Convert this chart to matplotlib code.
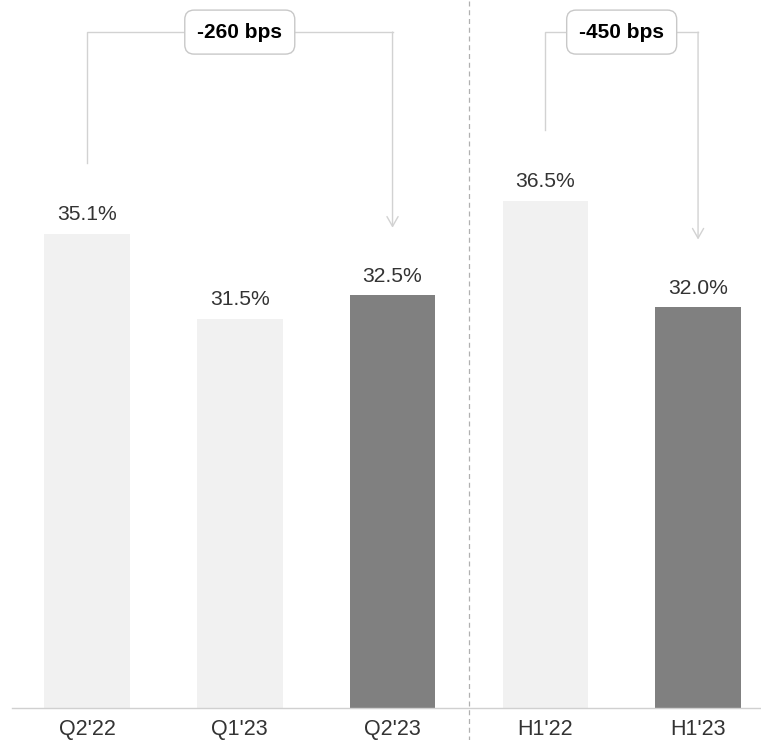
# margin bars, quarter and half-year comparison with bps change brackets

import matplotlib.pyplot as plt

categories = ["Q2'22", "Q1'23", "Q2'23", "H1'22", "H1'23"]
margins = [35.1, 31.5, 32.5, 36.5, 32.0]
highlight = [False, False, True, False, True]

# (from index, to index, label)
changes = [(0, 2, "-260 bps"), (3, 4, "-450 bps")]

LIGHT = "#f1f1f1"
DARK = "#808080"
TEXT = "#333333"
LINE = "#d2d2d2"


def draw_bracket(ax, i0, i1, label, top):
    """Draw a bracket from bar i0 to bar i1 with a rounded label box"""
    y0 = margins[i0] + 3.0  # where the left leg starts
    y1 = margins[i1] + 2.85  # arrow tip above the target bar
    ax.plot([i0, i0, i1], [y0, top, top], color=LINE, lw=1.0, zorder=1,
            solid_joinstyle="miter")
    ax.annotate("", xy=(i1, y1), xytext=(i1, top),
                arrowprops=dict(arrowstyle="->,head_length=0.7,head_width=0.4",
                                color=LINE, lw=1.0, shrinkA=0, shrinkB=0),
                zorder=1)
    ax.text((i0 + i1) / 2, top, label, ha="center", va="center",
            fontsize=15, fontweight="bold", color="black", zorder=3,
            bbox=dict(boxstyle="round,pad=0.6,rounding_size=0.45",
                      facecolor="white", edgecolor="#c8c8c8", lw=1.0))


plt.rcParams["font.family"] = ["Liberation Sans", "DejaVu Sans"]

fig = plt.figure(figsize=(7.61, 7.40), dpi=100)
ax = fig.add_axes([12 / 761, 32 / 740, 1 - 12 / 761, 708 / 740])

x = list(range(len(categories)))
colors = [DARK if h else LIGHT for h in highlight]
bars = ax.bar(x, margins, width=0.56, color=colors, zorder=2)

# value labels above each bar
for i, v in enumerate(margins):
    ax.annotate(f"{v:.1f}%", xy=(i, v), xytext=(0, 9.5),
                textcoords="offset points", ha="center", va="baseline",
                fontsize=15.2, color=TEXT)

ax.set_ylim(15, 45)
ax.set_xlim(-0.491, 4.412)

# separator between quarterly and half-year bars
ax.axvline(2.5, ymin=-0.05, ymax=1.0, color="#b0b0b0", lw=0.9,
           linestyle=(0, (4, 3)), clip_on=False, zorder=0)

for i0, i1, label in changes:
    draw_bracket(ax, i0, i1, label, top=43.64)

ax.set_xticks(x)
ax.set_xticklabels(categories, fontsize=15.5, color=TEXT)
ax.set_yticks([])
ax.tick_params(axis="x", length=0, pad=8)
for side in ["left", "right", "top"]:
    ax.spines[side].set_visible(False)
ax.spines["bottom"].set_color("#d0d0d0")
ax.spines["bottom"].set_linewidth(1.0)

plt.savefig("out.png", dpi=100)
